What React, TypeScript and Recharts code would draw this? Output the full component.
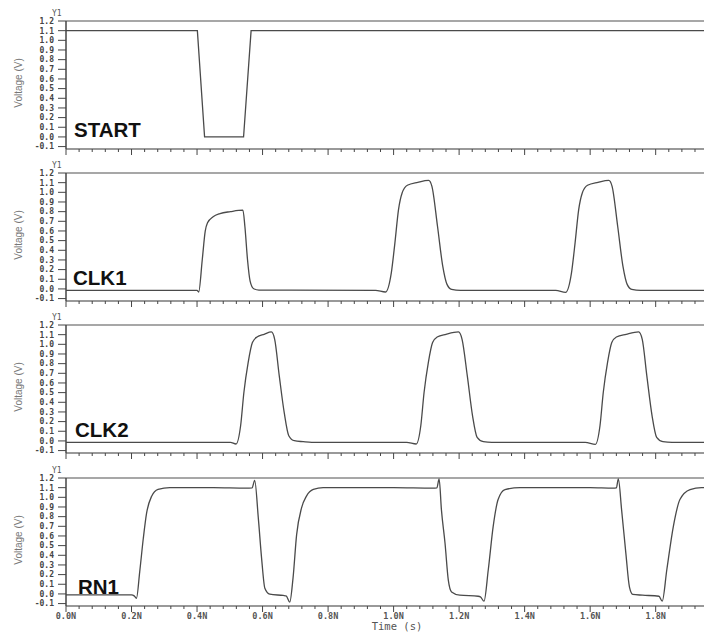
import { Line, LineChart, ReferenceLine, XAxis, YAxis } from "recharts";

// time in ns, voltage in V
const startWave: [number, number][] = [
  [0, 1.1], [0.401, 1.1], [0.423, 0.0], [0.542, 0.0], [0.565, 1.1], [1.95, 1.1],
];

const clk1Wave: [number, number][] = [
  [0, -0.015], [0.4, -0.015], [0.405, -0.032], [0.416, 0.305], [0.425, 0.598],
  [0.432, 0.684], [0.449, 0.746], [0.47, 0.78], [0.502, 0.8], [0.54, 0.815],
  [0.546, 0.649], [0.554, 0.305], [0.562, 0.081], [0.573, 0.002], [0.589, -0.012],
  [0.945, -0.015], [0.975, -0.032], [0.993, 0.167], [1.004, 0.477], [1.015, 0.821],
  [1.026, 0.993], [1.042, 1.073], [1.074, 1.104], [1.107, 1.124], [1.117, 1.062],
  [1.134, 0.649], [1.15, 0.236], [1.163, 0.047], [1.177, -0.005], [1.204, -0.015],
  [1.495, -0.015], [1.525, -0.035], [1.543, 0.167], [1.554, 0.477], [1.565, 0.821],
  [1.576, 0.993], [1.592, 1.073], [1.624, 1.104], [1.657, 1.124], [1.667, 1.062],
  [1.684, 0.649], [1.7, 0.236], [1.713, 0.047], [1.727, -0.005], [1.754, -0.015],
  [1.95, -0.015],
];

const clk2Wave: [number, number][] = [
  [0, -0.015], [0.502, -0.015], [0.519, -0.032], [0.533, 0.157], [0.543, 0.501],
  [0.556, 0.811], [0.569, 1.018], [0.583, 1.076], [0.605, 1.104], [0.627, 1.128],
  [0.637, 1.052], [0.651, 0.673], [0.666, 0.295], [0.68, 0.054], [0.697, 0.002],
  [0.724, -0.008], [0.75, -0.015], [1.04, -0.015], [1.069, -0.032], [1.083, 0.157],
  [1.093, 0.501], [1.106, 0.811], [1.119, 1.018], [1.133, 1.076], [1.16, 1.104],
  [1.198, 1.128], [1.209, 1.052], [1.225, 0.673], [1.241, 0.26], [1.255, 0.037],
  [1.274, -0.008], [1.3, -0.015], [1.585, -0.015], [1.616, -0.035], [1.63, 0.157],
  [1.64, 0.501], [1.653, 0.811], [1.666, 1.018], [1.68, 1.076], [1.71, 1.104],
  [1.748, 1.128], [1.759, 1.052], [1.773, 0.673], [1.789, 0.26], [1.803, 0.037],
  [1.822, -0.008], [1.85, -0.015], [1.95, -0.015],
];

const rn1Wave: [number, number][] = [
  [0, -0.01], [0.2, -0.01], [0.208, -0.02], [0.215, -0.045], [0.225, 0.229],
  [0.236, 0.576], [0.246, 0.836], [0.261, 1.009], [0.281, 1.082], [0.317, 1.1],
  [0.45, 1.1], [0.55, 1.095], [0.568, 1.097], [0.576, 1.175], [0.587, 0.787],
  [0.597, 0.371], [0.607, 0.059], [0.622, -0.003], [0.663, -0.016], [0.672, -0.02],
  [0.683, -0.085], [0.693, 0.164], [0.704, 0.614], [0.719, 0.891], [0.734, 1.013],
  [0.755, 1.082], [0.785, 1.1], [1.0, 1.1], [1.12, 1.095], [1.132, 1.097],
  [1.139, 1.19], [1.146, 0.87], [1.157, 0.524], [1.167, 0.143], [1.177, 0.021],
  [1.202, -0.013], [1.258, -0.024], [1.265, -0.03], [1.276, -0.075], [1.289, 0.25],
  [1.304, 0.7], [1.319, 0.977], [1.34, 1.08], [1.386, 1.1], [1.6, 1.1],
  [1.67, 1.095], [1.68, 1.097], [1.686, 1.19], [1.696, 0.87], [1.709, 0.42],
  [1.72, 0.07], [1.73, -0.005], [1.76, -0.013], [1.81, -0.024], [1.82, -0.075],
  [1.834, 0.25], [1.854, 0.7], [1.874, 0.977], [1.905, 1.08], [1.94, 1.1], [1.95, 1.1],
];

const voltTicks = [-0.1, 0.0, 0.1, 0.2, 0.3, 0.4, 0.5, 0.6, 0.7, 0.8, 0.9, 1.0, 1.1, 1.2];
const timeMajor = [0.0, 0.2, 0.4, 0.6, 0.8, 1.0, 1.2, 1.4, 1.6, 1.8];
const panelNames = ["START", "CLK1", "CLK2", "RN1"];

// minor ticks: 4 between each major
const timeTicks: number[] = [];
for (const m of timeMajor) {
  for (let k = 0; k < 5; k++) timeTicks.push(+(m + k * 0.04).toFixed(2));
}

const PANELS = [
  { name: panelNames[0], wave: startWave, top: 21, labelLeft: 74, labelTop: 118, curve: "linear" },
  { name: panelNames[1], wave: clk1Wave, top: 173, labelLeft: 73, labelTop: 114, curve: "monotone" },
  { name: panelNames[2], wave: clk2Wave, top: 325, labelLeft: 75, labelTop: 114, curve: "monotone" },
  { name: panelNames[3], wave: rn1Wave, top: 478, labelLeft: 78, labelTop: 118, curve: "monotone" },
];

const PLOT_TOP = 20;
const PLOT_H = 128;
const INK = "#454545";
const MONO = "'DejaVu Sans Mono', monospace";

function TimeTick(props: any) {
  const { x, y, payload, showLabel } = props;
  const v = payload.value as number;
  const major = Math.abs(v * 5 - Math.round(v * 5)) < 1e-6;
  return (
    <g>
      <line x1={x} x2={x} y1={y} y2={y + (major ? 6 : 3)} stroke={INK} strokeWidth={1} />
      {showLabel && major && (
        <text
          x={x}
          y={y + 12.5}
          textAnchor="middle"
          fontSize={8.5}
          fontFamily={MONO}
          fontWeight="bold"
          fill="#555"
        >
          {v.toFixed(1)}N
        </text>
      )}
    </g>
  );
}

function Panel({ name, wave, top, labelLeft, labelTop, curve, last }: any) {
  const rows = wave.map(([t, v]: [number, number]) => ({ t, v }));
  const axisH = last ? 30 : 10;
  return (
    <div style={{ position: "absolute", left: 0, top: top - PLOT_TOP, width: 704 }}>
      <LineChart
        width={704}
        height={PLOT_TOP + PLOT_H + axisH}
        data={rows}
        margin={{ top: PLOT_TOP, right: 0, bottom: 0, left: 0 }}
      >
        <XAxis
          dataKey="t"
          type="number"
          domain={[0, 1.9475]}
          allowDataOverflow
          ticks={timeTicks}
          interval={0}
          height={axisH}
          tickSize={0}
          tickMargin={0}
          axisLine={{ stroke: "#777", strokeWidth: 1.5 }}
          tick={(p: any) => <TimeTick {...p} showLabel={last} />}
        />
        <YAxis
          type="number"
          domain={[-0.125, 1.2]}
          allowDataOverflow
          ticks={voltTicks}
          interval={0}
          width={66}
          tickSize={8}
          tickMargin={4}
          tickFormatter={(v: number) => v.toFixed(1)}
          tick={{ fontSize: 8, fill: "#444", fontFamily: MONO, fontWeight: "bold" }}
          tickLine={{ stroke: INK }}
          axisLine={{ stroke: INK, strokeWidth: 1.5 }}
        />
        <ReferenceLine y={1.2} stroke="#8a8a8a" strokeWidth={1.5} />
        <Line
          type={curve}
          dataKey="v"
          stroke="#4a4a4a"
          strokeWidth={1.3}
          dot={false}
          isAnimationActive={false}
        />
      </LineChart>
      <div
        style={{
          position: "absolute",
          left: 52,
          top: 8,
          fontFamily: MONO,
          fontSize: 8,
          color: "#555",
          lineHeight: "10px",
        }}
      >
        Y1
      </div>
      <div
        style={{
          position: "absolute",
          left: 18.5,
          top: 82,
          transform: "translate(-50%, -50%) rotate(-90deg)",
          fontFamily: "'Liberation Sans', Arial, sans-serif",
          fontSize: 10,
          color: "#777",
          whiteSpace: "nowrap",
          lineHeight: "12px",
        }}
      >
        Voltage (V)
      </div>
      <div
        style={{
          position: "absolute",
          left: labelLeft,
          top: labelTop,
          fontFamily: "'Liberation Sans', Arial, sans-serif",
          fontWeight: "bold",
          fontSize: 20.5,
          lineHeight: "21px",
          color: "#111",
        }}
      >
        {name}
      </div>
    </div>
  );
}

export default function App() {
  return (
    <div
      style={{
        position: "absolute",
        left: 0,
        top: 0,
        width: 704,
        height: 634,
        background: "#fff",
        overflow: "hidden",
      }}
    >
      {PANELS.map((p, i) => (
        <Panel key={p.name} {...p} last={i === PANELS.length - 1} />
      ))}
      <div
        style={{
          position: "absolute",
          left: 397,
          top: 621,
          transform: "translateX(-50%)",
          fontFamily: MONO,
          fontSize: 10.5,
          color: "#555",
          lineHeight: "10px",
          whiteSpace: "nowrap",
        }}
      >
        Time (s)
      </div>
    </div>
  );
}
